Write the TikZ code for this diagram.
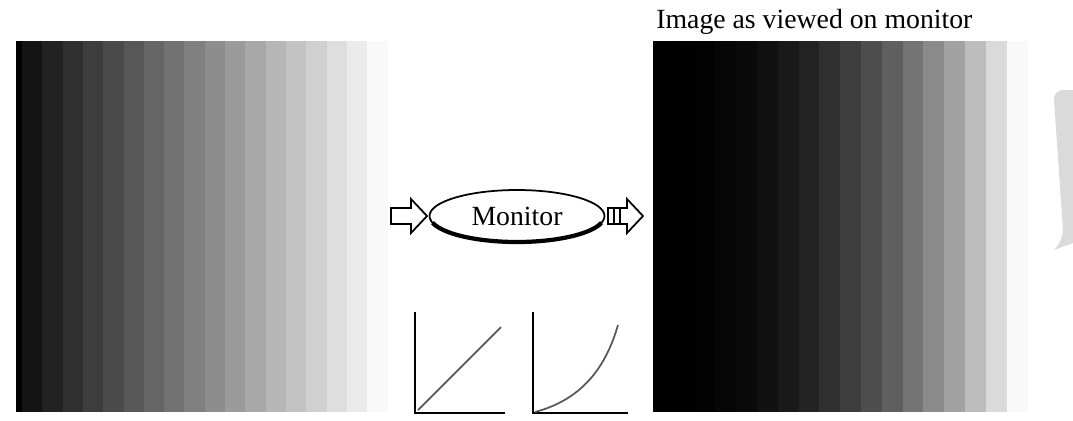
\documentclass[tikz,border=0pt]{standalone}
\usepackage{fontspec}
\setmainfont{Liberation Serif}
\usetikzlibrary{shapes.geometric}
\definecolor{wmgrey}{RGB}{218,218,218}

\begin{document}
\begin{tikzpicture}[x=0.02cm,y=-0.02cm]
  \def\sw{20.3}
  \def\rw{20.8}
  \useasboundingbox (0,0) rectangle (1073,420);

%input ramp:
  \fill[black] (16,41) rectangle (22,412);
  \foreach \i [evaluate=\i as \g using {100-100*(0.08+0.895*\i/17)}] in {0,...,17}
    \fill[black!\g] (22+\i*\sw,41) rectangle (22+\i*\sw+\sw+0.5,412);

%ramp on monitor:
  \foreach \i [evaluate=\i as \g using {100-97.5*pow(max(\i,0.001)/17,2.2)}] in {0,...,17}
    \fill[black!\g] (653+\i*\rw,41) rectangle (653+\i*\rw+\rw+0.5,412);
  \node[anchor=base west,font=\fontsize{15.8}{18}\selectfont,inner sep=0pt] (title) at (656,28) {Image as viewed on monitor};

%monitor:
  \node[ellipse,draw,line width=1pt,minimum width=3.5cm,minimum height=1.04cm,inner sep=0pt,
        font=\fontsize{15.8}{18}\selectfont] (mon) at (517,216) {Monitor};
  \draw[line width=2.4pt] ([shift={(195:1.75cm and 0.52cm)}]mon.center) arc (195:345:1.75cm and 0.52cm);
  \draw[line width=1pt,line join=miter] (391,208) -- (411,208) -- (411,199) -- (427,216) -- (411,233) -- (411,224) -- (391,224) -- cycle;
  \draw[line width=1pt,line join=miter] (608,208) -- (627,208) -- (627,199) -- (643,216) -- (627,233) -- (627,224) -- (608,224) -- cycle;
  \draw[line width=0.6pt] (614,208) -- (614,224) (620,208) -- (620,224);

%response curves:
  \draw[line width=1.4pt] (415,312) -- (415,413) -- (505,413);
  \draw[line width=1pt,gray!70!black] (418,410) -- (501,327);
  \draw[line width=1.4pt] (533,312) -- (533,413) -- (628,413);
  \draw[line width=1pt,gray!70!black] (535,412) .. controls (580,400) and (605,370) .. (618,325);

%watermark:
  \fill[wmgrey] (1054,100) .. controls (1054,94) and (1057,91) .. (1062,90) -- (1073,90) -- (1073,243)
    -- (1054,250) .. controls (1058,246) and (1062,240) .. (1063,230) -- cycle;
\end{tikzpicture}
\end{document}
